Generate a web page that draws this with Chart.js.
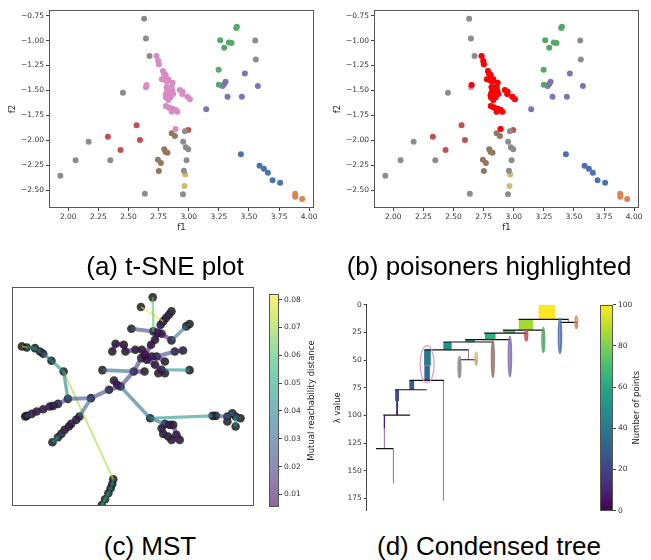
<!DOCTYPE html>
<html>
<head>
<meta charset="utf-8">
<script src="https://cdn.jsdelivr.net/npm/chart.js@4.4.1/dist/chart.umd.min.js"></script>
<style>
  body { margin: 0; background: #fff; }
  #fig { position: relative; width: 651px; height: 560px; overflow: hidden; background: #fff; }
  canvas { position: absolute; }
  .cap { position: absolute; font-family: "Liberation Sans", Arial, sans-serif; font-size: 26px; color: #000;
         white-space: nowrap; transform: translate(-50%, -50%); }
</style>
</head>
<body>
<div id="fig">
  <canvas id="pa" width="325" height="245" style="left:0;top:0"></canvas>
  <canvas id="pb" width="326" height="245" style="left:325px;top:0"></canvas>
  <canvas id="pc" width="258" height="240" style="left:0;top:280px"></canvas>
  <canvas id="pcBar" width="72" height="240" style="left:258px;top:280px"></canvas>
  <canvas id="pd" width="260" height="230" style="left:330px;top:290px"></canvas>
  <canvas id="pdBar" width="61" height="230" style="left:590px;top:290px"></canvas>
  <div class="cap" style="left:165px;top:266px">(a) t-SNE plot</div>
  <div class="cap" style="left:489px;top:266px">(b) poisoners highlighted</div>
  <div class="cap" style="left:150px;top:546px">(c) MST</div>
  <div class="cap" style="left:489px;top:546px">(d) Condensed tree</div>
</div>
<script>
// ---- (a)/(b) t-SNE points, per cluster ----
var grayPts = [[2.63,-0.78],[2.645,-0.98],[2.675,-1.155],[2.454,-1.523],[3.552,-1.0],[3.557,-1.19],
  [2.169,-2.014],[2.061,-2.2],[2.349,-2.2],[1.934,-2.356],[2.636,-2.536],[2.952,-2.543],[2.968,-1.911],
  [2.954,-2.015],[2.976,-2.07],[2.996,-2.09],[2.982,-2.2],[2.96,-2.305]];
var pinkPts = [[2.733,-1.155],[2.747,-1.205],[2.752,-1.238],[2.786,-1.305],[2.794,-1.329],[2.808,-1.345],
  [2.777,-1.389],[2.802,-1.395],[2.83,-1.389],[2.819,-1.412],[2.65,-1.446],[2.645,-1.469],[2.816,-1.469],
  [2.824,-1.496],[2.844,-1.479],[2.866,-1.422],[2.858,-1.462],[2.816,-1.523],[2.808,-1.546],[2.844,-1.546],
  [2.863,-1.503],[2.871,-1.536],[2.81,-1.569],[2.83,-1.596],[2.849,-1.569],[2.927,-1.496],[2.949,-1.513],
  [2.946,-1.536],[2.988,-1.563],[3.01,-1.589],[2.81,-1.656],[2.83,-1.67],[2.849,-1.68],[2.871,-1.686],
  [2.893,-1.696],[2.905,-1.713],[2.858,-1.713],[2.89,-1.887]];
var redPts = [[2.567,-1.85],[2.329,-1.964],[2.595,-1.998],[2.434,-2.098],[2.996,-1.897]];
var brownPts = [[2.858,-1.93],[2.885,-1.957],[2.797,-2.09],[2.808,-2.118],[2.824,-2.125],[2.744,-2.195],
  [2.769,-2.228],[2.752,-2.309]];
var yellowPts = [[2.971,-2.345],[2.965,-2.459]];
var greenPts = [[3.4,-0.86],[3.394,-0.874],[3.261,-0.997],[3.333,-1.018],[3.355,-1.024],[3.295,-1.071],
  [3.248,-1.292],[3.25,-1.442]];
var purplePts = [[3.466,-1.329],[3.306,-1.412],[3.295,-1.436],[3.281,-1.456],[3.574,-1.456],[3.322,-1.563],
  [3.441,-1.563],[3.145,-1.69]];
var bluePts = [[3.433,-2.141],[3.588,-2.255],[3.624,-2.285],[3.657,-2.325],[3.696,-2.402],[3.759,-2.426]];
var orangePts = [[3.884,-2.536],[3.884,-2.566],[3.942,-2.589]];
var keptPinkIdx = 11;   // the one pink point not flagged as poisoner in (b)

var f1Ticks = [2.0, 2.25, 2.5, 2.75, 3.0, 3.25, 3.5, 3.75, 4.0];
var f2Ticks = [-0.75, -1.0, -1.25, -1.5, -1.75, -2.0, -2.25, -2.5];

// ---- (c) minimum spanning tree (layout units) ----
var mstNodes = [[46.3,5.3],[42.7,8.2],[52,9.5],[51.2,10.5],[50.3,11.5],[49.5,12.5],[48.7,13.5],[39.8,14.7],
  [46.5,15.5],[47.8,16],[49,16.2],[57.5,13.3],[56.5,14],[52,18.2],[47,18],[45.8,19.5],[35,19.2],[37.5,19.5],
  [34,21.5],[38,21.5],[41,21],[43,21],[44,22.5],[42.8,23.5],[44.5,24],[46,23],[47.5,23],[50,24.5],[53,21.5],
  [55.5,21.2],[47,25.5],[49,27],[48,28],[50,28],[57.5,27.1],[31,27.1],[40.5,27.5],[43.8,27.5],[34.5,30.2],
  [35.5,31.5],[36.5,32],[33,33],[27.5,35.5],[20.5,35.7],[17.5,37.2],[16,37.8],[15,38],[13,38.8],[11,39.5],
  [9.5,40.2],[8,40.8],[7.5,41],[24,41],[23,42],[21.5,43.2],[20.8,44],[19.5,45],[18.5,46.2],[17.5,47.2],
  [15.8,48.7],[6.5,20],[8,20.3],[10.5,20.5],[12,21.5],[13,22.2],[15.5,24.3],[19.2,27.5],[34.3,59.8],
  [34,61.2],[33.5,62.5],[32.8,64],[31.8,65.8],[30.8,67.5],[45.5,41.5],[64.5,40.8],[65.5,40.8],[69,41],
  [70.5,40],[71.5,41],[73,41.5],[69,42.5],[71.5,44],[50,43.2],[51.5,43.5],[52.5,43.5],[49,44.5],[49.5,46.2],
  [51,47],[52,48],[53.5,46.5],[54.5,48]];
var mstEdges = [[0,8,0.062],[1,5,0.080],[2,3,0.015],[3,4,0.015],[4,5,0.015],[5,6,0.015],[6,9,0.012],
  [7,8,0.022],[8,9,0.01],[9,10,0.01],[11,12,0.032],[12,13,0.035],[13,10,0.012],[9,14,0.01],[14,15,0.01],
  [15,22,0.01],[16,17,0.01],[17,19,0.01],[18,16,0.01],[19,20,0.012],[20,21,0.01],[21,22,0.01],[22,23,0.008],
  [22,24,0.008],[24,25,0.01],[25,26,0.015],[26,28,0.022],[28,29,0.015],[24,30,0.01],[30,31,0.012],
  [31,32,0.01],[31,33,0.01],[31,34,0.045],[26,27,0.012],[23,36,0.018],[36,40,0.02],[35,36,0.03],
  [36,37,0.012],[40,38,0.01],[38,39,0.01],[40,41,0.015],[41,42,0.022],[42,43,0.025],[43,44,0.02],
  [44,45,0.012],[45,46,0.012],[46,47,0.012],[47,48,0.012],[48,49,0.012],[49,50,0.02],[50,51,0.035],
  [42,52,0.03],[52,53,0.012],[53,54,0.012],[54,55,0.012],[55,56,0.012],[56,57,0.015],[57,58,0.03],
  [58,59,0.045],[43,66,0.038],[66,65,0.042],[65,64,0.035],[64,63,0.03],[63,62,0.04],[62,61,0.045],
  [61,60,0.08],[66,67,0.072],[67,68,0.05],[68,69,0.045],[69,70,0.045],[70,71,0.05],[71,72,0.055],
  [40,73,0.033],[73,74,0.045],[74,75,0.015],[75,76,0.025],[76,77,0.03],[77,78,0.03],[78,79,0.03],
  [78,81,0.045],[76,80,0.02],[73,82,0.032],[82,83,0.012],[83,84,0.012],[82,85,0.012],[85,86,0.012],
  [86,87,0.012],[87,88,0.012],[88,90,0.012],[84,89,0.012],[89,90,0.012]];
var distRange = [0.0055, 0.082];
var distTicks = [0.01, 0.02, 0.03, 0.04, 0.05, 0.06, 0.07, 0.08];

// ---- (d) condensed tree: [x, lambda start, lambda end, number of points] ----
var treeBars = [[650,0,13.3,100],[587,13.3,22.9,86],[537,22.9,25.6,72],[480,25.6,31.6,64],[420,31.6,33.7,57],
  [352,33.7,40.7,50],[292,40.7,55,40],[291,55,68.4,33],[245,68.4,76.8,29],[201,76.8,87,23],[201,87,99.7,11],
  [163,99.7,112,8],[163,112,130,4],[190,130,161.4,3],[340,68.4,177,3],[415,40.7,49.7,4],[388,49.7,65.7,3],
  [438,49.7,54.5,3],[540,31.6,64.5,4],[488,33.7,65,4],[588,25.6,32,4],[640,22.9,42.5,4],[690,16,42.5,4],
  [738,16,21.4,3],[714,13.3,16,2]];
// [lambda, x left, x right]
var treeSplits = [[13.3,565,715],[16,690,740],[22.9,518,640],[25.6,462,590],[31.6,405,540],[33.7,340,488],
  [40.7,283,415],[49.7,388,438],[68.4,238,342],[76.8,195,290],[99.7,160,240],[130,138,190]];
// selected clusters: [x, lambda top, lambda bottom, half width, colour]
var treeClusters = [[738,10.2,21.7,4,'#dd8452'],[689,12.3,44,5,'#4c72b0'],[639,20.5,43.4,4.5,'#55a868'],
  [588,22,32.8,4.5,'#c44e52'],[539,28.3,65,5,'#8172b3'],[488,32,65.7,4.5,'#937860'],[388,46.4,66,4.5,'#8c8c8c'],
  [438,42.8,54.8,4,'#ccb974'],[291,37,70.5,21,'#da8bc3']];
var lambdaTicks = [0, 25, 50, 75, 100, 125, 150, 175];
var countTicks = [0, 20, 40, 60, 80, 100];

var VIR = ['#440154','#482475','#414487','#355f8d','#2a788e','#21918c','#22a884','#44bf70','#7ad151','#bddf26','#fde725'];
function hexRgb(h) { return [parseInt(h.substr(1,2),16), parseInt(h.substr(3,2),16), parseInt(h.substr(5,2),16)]; }
function viridis(t, a) {
  t = Math.max(0, Math.min(1, t));
  var f = t * 10, i = Math.min(9, Math.floor(f)), r = f - i;
  var c0 = hexRgb(VIR[i]), c1 = hexRgb(VIR[i + 1]);
  var c = c0.map(function(v, k) { return Math.round(v + (c1[k] - v) * r); });
  return 'rgba(' + c[0] + ',' + c[1] + ',' + c[2] + ',' + (a == null ? 1 : a) + ')';
}

Chart.defaults.font.family = '"DejaVu Sans", sans-serif';
Chart.defaults.font.size = 7.5;
Chart.defaults.color = '#333';
Chart.defaults.animation = false;
Chart.defaults.responsive = false;
Chart.defaults.plugins.legend.display = false;
Chart.defaults.plugins.tooltip.enabled = false;

var framePlugin = {
  id: 'frame',
  afterDraw: function(chart) {
    var a = chart.chartArea, ctx = chart.ctx;
    ctx.save();
    ctx.strokeStyle = '#555';
    ctx.lineWidth = 1;
    ctx.strokeRect(Math.round(a.left) + 0.5, Math.round(a.top) + 0.5,
      Math.round(a.right - a.left) - 1, Math.round(a.bottom - a.top) - 1);
    ctx.restore();
  }
};

function sideLabel(text, x) {
  return {
    id: 'sideLabel',
    afterDraw: function(chart) {
      var a = chart.chartArea, ctx = chart.ctx;
      ctx.save();
      ctx.translate(x, (a.top + a.bottom) / 2);
      ctx.rotate(-Math.PI / 2);
      ctx.font = '8.5px "DejaVu Sans", sans-serif';
      ctx.fillStyle = '#222';
      ctx.textAlign = 'center';
      ctx.textBaseline = 'middle';
      ctx.fillText(text, 0, 0);
      ctx.restore();
    }
  };
}

function fixedTicks(list) {
  return function(s) { s.ticks = list.map(function(v) { return { value: v }; }); };
}
function fmt(v, d) { var s = Math.abs(v).toFixed(d); return v < 0 ? '\u2212' + s : s; }

var tickGrid = { display: true, drawOnChartArea: false, drawTicks: true, tickLength: 3, color: '#444' };

function pts(list) { return list.map(function(p) { return { x: p[0], y: p[1] }; }); }
function cluster(list, color, order) {
  return { data: pts(list), backgroundColor: color, pointRadius: 3, borderWidth: 0, order: order || 5 };
}

function tsnePanel(id, datasets, rightPad) {
  new Chart(document.getElementById(id), {
    type: 'scatter',
    data: { datasets: datasets },
    options: {
      layout: { padding: { left: 0, right: rightPad, top: 10, bottom: 0 } },
      scales: {
        x: {
          min: 1.84, max: 4.04,
          afterBuildTicks: fixedTicks(f1Ticks),
          afterFit: function(s) { s.height = 37; },
          ticks: { autoSkip: false, maxRotation: 0, padding: 2, callback: function(v) { return fmt(v, 2); } },
          grid: tickGrid, border: { display: false },
          title: { display: true, text: 'f1', font: { size: 8.5 }, color: '#222', padding: { top: 0, bottom: 12 } }
        },
        y: {
          min: -2.68, max: -0.693,
          afterBuildTicks: fixedTicks(f2Ticks),
          afterFit: function(s) { s.width = 49; },
          ticks: { autoSkip: false, padding: 2, callback: function(v) { return fmt(v, 2); } },
          grid: tickGrid, border: { display: false },
          title: { display: true, text: 'f2', font: { size: 8.5 }, color: '#222', padding: { top: 8, bottom: 0 } }
        }
      }
    },
    plugins: [framePlugin]
  });
}

var baseSets = [
  cluster(grayPts, '#8c8c8c'), cluster(redPts, '#c44e52'), cluster(brownPts, '#937860'),
  cluster(yellowPts, '#ccb974'), cluster(greenPts, '#55a868'), cluster(purplePts, '#8172b3'),
  cluster(bluePts, '#4c72b0'), cluster(orangePts, '#dd8452')
];
tsnePanel('pa', baseSets.concat([cluster(pinkPts, '#da8bc3', 4)]), 11);
var poisoners = pinkPts.filter(function(p, i) { return i !== keptPinkIdx; });
tsnePanel('pb', baseSets.map(function(d) { return Object.assign({}, d, { data: d.data.slice() }); })
  .concat([cluster(pinkPts, '#da8bc3', 4), cluster(poisoners, '#ff0000', 1)]), 12);

// ---- (c) ----
function distT(w) { return (w - distRange[0]) / (distRange[1] - distRange[0]); }
var mstSets = mstEdges.map(function(e) {
  var a = mstNodes[e[0]], b = mstNodes[e[1]];
  return {
    data: [{ x: a[0], y: a[1] }, { x: b[0], y: b[1] }],
    showLine: true, pointRadius: 0,
    borderColor: viridis(distT(e[2]), 0.6),
    borderWidth: Math.max(1.5, Math.min(4.6, 5 - e[2] * 42)),
    order: 1
  };
});
mstSets.push({ data: pts(mstNodes), pointRadius: 4.3, backgroundColor: 'rgba(20,20,20,0.82)', borderWidth: 0, order: 3 });

new Chart(document.getElementById('pc'), {
  type: 'scatter',
  data: { datasets: mstSets },
  options: {
    layout: { padding: { left: 12, right: 1, top: 7, bottom: 14 } },
    scales: {
      x: { display: false, min: 3.5, max: 77 },
      y: { display: false, min: 2.2, max: 67.8, reverse: true }
    }
  },
  plugins: [framePlugin]
});

function colorbar(id, range, ticks, decimals, alpha, pad, width, label, labelX) {
  new Chart(document.getElementById(id), {
    type: 'bar',
    data: {
      labels: [''],
      datasets: [{
        data: [[range[0], range[1]]],
        barPercentage: 1, categoryPercentage: 1, borderWidth: 0,
        backgroundColor: function(c) {
          var a = c.chart.chartArea;
          if (!a) return 'transparent';
          var g = c.chart.ctx.createLinearGradient(0, a.bottom, 0, a.top);
          for (var i = 0; i <= 20; i++) g.addColorStop(i / 20, viridis(i / 20, alpha));
          return g;
        }
      }]
    },
    options: {
      layout: { padding: pad },
      scales: {
        x: { display: false },
        y: {
          position: 'right', min: range[0], max: range[1],
          afterBuildTicks: fixedTicks(ticks),
          afterFit: function(s) { s.width = width; },
          ticks: { autoSkip: false, padding: 2, callback: function(v) { return v.toFixed(decimals); } },
          grid: tickGrid, border: { display: false }
        }
      }
    },
    plugins: [framePlugin, sideLabel(label, labelX)]
  });
}
colorbar('pcBar', distRange, distTicks, 2, 0.6, { left: 11, right: 0, top: 14, bottom: 13 }, 51,
  'Mutual reachability distance', 54);

// ---- (d) ----
var pxPerCount = 0.5;
var treeSets = treeBars.map(function(b) {
  var t = b[3] / 100;
  return {
    data: [{ x: b[0], y: b[1] }, { x: b[0], y: b[2] }],
    showLine: true, pointRadius: 0, borderCapStyle: 'butt',
    borderColor: b[3] <= 5 ? viridis(t, 0.55) : viridis(t),
    borderWidth: function(c) {
      var s = c.chart.scales.x;
      return Math.max(1.1, Math.abs(s.getPixelForValue(b[3] * pxPerCount) - s.getPixelForValue(0)));
    },
    order: 3
  };
});
treeSplits.forEach(function(s) {
  treeSets.push({
    data: [{ x: s[1], y: s[0] }, { x: s[2], y: s[0] }],
    showLine: true, pointRadius: 0, borderColor: '#111', borderWidth: 1.2, order: 1
  });
});

var ellipsePlugin = {
  id: 'ellipses',
  afterDatasetsDraw: function(chart) {
    var x = chart.scales.x, y = chart.scales.y, ctx = chart.ctx;
    ctx.save();
    treeClusters.forEach(function(e, i) {
      var cx = x.getPixelForValue(e[0]);
      var y0 = y.getPixelForValue(e[1]), y1 = y.getPixelForValue(e[2]);
      var rx = Math.abs(x.getPixelForValue(e[0] + e[3]) - cx);
      ctx.beginPath();
      ctx.ellipse(cx, (y0 + y1) / 2, rx, Math.abs(y1 - y0) / 2, 0, 0, Math.PI * 2);
      ctx.strokeStyle = e[4];
      ctx.lineWidth = 1.3;
      if (e[3] < 10) {
        ctx.globalAlpha = 0.6;
        ctx.fillStyle = e[4];
        ctx.fill();
      }
      ctx.globalAlpha = 0.85;
      ctx.stroke();
    });
    ctx.restore();
  }
};

new Chart(document.getElementById('pd'), {
  type: 'scatter',
  data: { datasets: treeSets },
  options: {
    layout: { padding: { left: 0, right: 3, top: 14.7, bottom: 9.3 } },
    scales: {
      x: { display: false, min: 110, max: 770 },
      y: {
        reverse: true, min: 0, max: 186,
        afterBuildTicks: fixedTicks(lambdaTicks),
        afterFit: function(s) { s.width = 36.7; },
        ticks: { autoSkip: false, padding: 2 },
        grid: tickGrid, border: { display: true, color: '#444' },
        title: { display: true, text: '\u03bb value', font: { size: 8.5 }, color: '#222', padding: { top: 3, bottom: 0 } }
      }
    }
  },
  plugins: [ellipsePlugin]
});

colorbar('pdBar', [0, 100], countTicks, 0, 1, { left: 10, right: 0, top: 14.7, bottom: 9.3 }, 38,
  'Number of points', 47);
</script>
</body>
</html>
